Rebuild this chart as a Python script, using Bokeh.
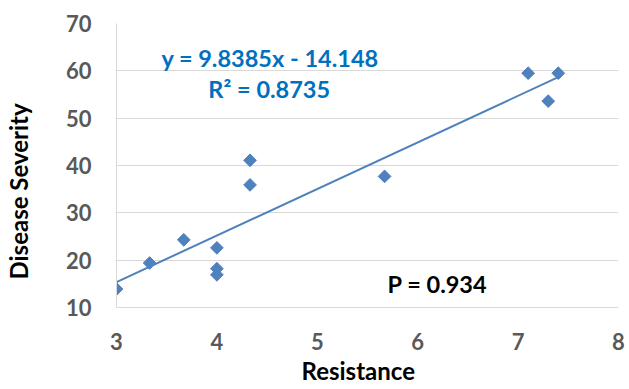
import math
from bokeh.plotting import figure
from bokeh.models import Range1d, Label, FixedTicker, Title
from bokeh.embed import file_html
from bokeh.resources import INLINE

resistance = [3.0, 3.33, 3.67, 4.0, 4.0, 4.0, 4.33, 4.33, 5.67, 7.1, 7.4, 7.3]
severity = [13.9, 19.4, 24.3, 22.6, 18.2, 16.9, 41.1, 35.9, 37.7, 59.5, 59.5, 53.6]
slope = 9.8385
intercept = -14.148
eq_text = "y = 9.8385x - 14.148"
r2_text = "R\u00b2 = 0.8735"
p_text = "P = 0.934"
x_title = "Resistance"
y_title = "Disease Severity"
x_ticks = [3, 4, 5, 6, 7, 8]
y_ticks = [10, 20, 30, 40, 50, 60, 70]

FONT = "Lato"
BLUE = "#4F81BD"

p = figure(width=629, height=389, output_backend="svg", toolbar_location=None,
           x_range=Range1d(3, 8), y_range=Range1d(10, 70),
           min_border_left=115, min_border_right=11, min_border_top=23, min_border_bottom=82)
p.outline_line_color = None
p.xgrid.grid_line_color = None
p.ygrid.grid_line_color = "#D9D9D9"
p.ygrid.grid_line_width = 1

for ax in (p.xaxis, p.yaxis):
    ax.major_tick_out = 0
    ax.major_tick_in = 0
    ax.major_tick_line_color = None
    ax.minor_tick_line_color = None
    ax.axis_line_color = "#D9D9D9"
    ax.major_label_text_font = FONT
    ax.major_label_text_font_style = "bold"
    ax.major_label_text_font_size = "22px"
    ax.major_label_text_color = "#595959"

p.xaxis.ticker = FixedTicker(ticks=x_ticks)
p.yaxis.ticker = FixedTicker(ticks=y_ticks)
p.xaxis.major_label_standoff = 25
p.yaxis.major_label_standoff = 25

# y title: axis label, pushed toward the bottom with trailing no-break spaces
p.yaxis.axis_label = y_title + "\u00a0" * 9
p.yaxis.axis_label_standoff = 30
p.yaxis.axis_label_text_font = FONT
p.yaxis.axis_label_text_font_style = "bold"
p.yaxis.axis_label_text_font_size = "24px"
p.yaxis.axis_label_text_color = "#000000"

p.add_layout(Title(text=x_title, align="left", offset=185, standoff=2, text_font=FONT,
                   text_font_style="bold", text_font_size="24px", text_color="#000000"), "below")

x0, x1 = min(resistance), max(resistance)
p.line([x0, x1], [slope * x0 + intercept, slope * x1 + intercept], line_color=BLUE, line_width=2)
p.scatter(resistance, severity, marker="square", angle=math.pi / 4, size=9,
          fill_color=BLUE, line_color=BLUE)

p.add_layout(Label(x=3.447, y=62.8, text=eq_text, text_font=FONT, text_font_style="bold",
                   text_font_size="23.5px", text_color="#0070C0", text_baseline="middle"))
p.add_layout(Label(x=3.915, y=56.2, text=r2_text, text_font=FONT, text_font_style="bold",
                   text_font_size="23.5px", text_color="#0070C0", text_baseline="middle"))
p.add_layout(Label(x=5.70, y=15.07, text=p_text, text_font=FONT, text_font_style="bold",
                   text_font_size="23.5px", text_color="#000000", text_baseline="middle"))

open("out.html", "w").write(file_html(p, INLINE))
